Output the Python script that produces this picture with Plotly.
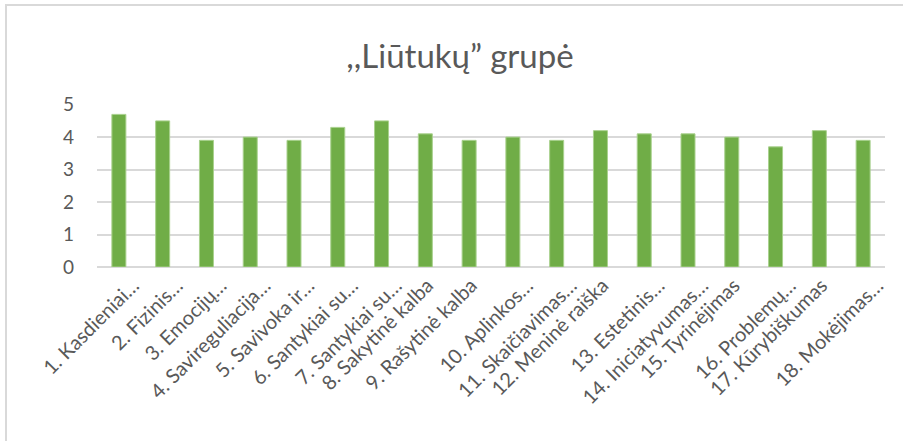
import plotly.graph_objects as go

categories = [
    "1. Kasdieniai…", "2. Fizinis…", "3. Emocijų…", "4. Savireguliacija…",
    "5. Savivoka ir…", "6. Santykiai su…", "7. Santykiai su…", "8. Sakytinė kalba",
    "9. Rašytinė kalba", "10. Aplinkos…", "11. Skaičiavimas…", "12. Meninė raiška",
    "13. Estetinis…", "14. Iniciatyvumas…", "15. Tyrinėjimas", "16. Problemų…",
    "17. Kūrybiškumas", "18. Mokėjimas…",
]
values = [4.7, 4.5, 3.9, 4.0, 3.9, 4.3, 4.5, 4.1, 3.9, 4.0, 3.9, 4.2, 4.1, 4.1, 4.0, 3.7, 4.2, 3.9]
y_ticks = [0, 1, 2, 3, 4, 5]
title_text = ",,Liūtukų” grupė"

W, H = 903, 441
L, R, T, B = 97, 18, 104, 174
pw, ph = W - L - R, H - T - B

positions = list(range(len(categories)))
# truncated (ellipsis) labels sit a little further right of their bar, as in the original
tick_pos = [p + (0.33 if c.endswith("…") else 0.05) for p, c in zip(positions, categories)]

fig = go.Figure(go.Bar(
    x=positions, y=values, hovertext=categories,
    marker=dict(color="#70AD47", line=dict(color="#A9D18E", width=1)),
))

font_fam = "Lato, Open Sans, sans-serif"
fig.update_layout(
    width=W, height=H,
    margin=dict(l=L, r=R, t=T, b=B),
    paper_bgcolor="white", plot_bgcolor="white",
    bargap=0.68,
    showlegend=False,
    title=dict(text=title_text, x=460 / W, xanchor="center", y=1 - 56 / H, yanchor="middle",
               font=dict(family=font_fam, size=33, color="#595959")),
    xaxis=dict(range=[-0.5, len(categories) - 0.5],
               tickvals=tick_pos, ticktext=categories,
               tickangle=-45, tickfont=dict(family=font_fam, size=20, color="#595959"),
               showgrid=False, showline=False, zeroline=False, ticks="", automargin=False,
               ticklabelstandoff=2),
    yaxis=dict(range=[0, 5.02], tickvals=y_ticks, showgrid=True, gridcolor="#D9D9D9", gridwidth=1.5,
               zeroline=True, zerolinecolor="#D9D9D9", zerolinewidth=1.5,
               tickfont=dict(family=font_fam, size=19, color="#595959"),
               ticklabelstandoff=22, automargin=False),
    shapes=[dict(type="rect", xref="paper", yref="paper",
                 x0=(6 - L) / pw, x1=1.3,
                 y0=-1.5, y1=(H - B - 5) / ph,
                 line=dict(color="#D9D9D9", width=2), fillcolor="rgba(0,0,0,0)", layer="below")],
)

fig.write_html("out.html", config={"displayModeBar": False},
               post_script="document.body.style.margin='0';document.body.style.overflow='hidden';")
